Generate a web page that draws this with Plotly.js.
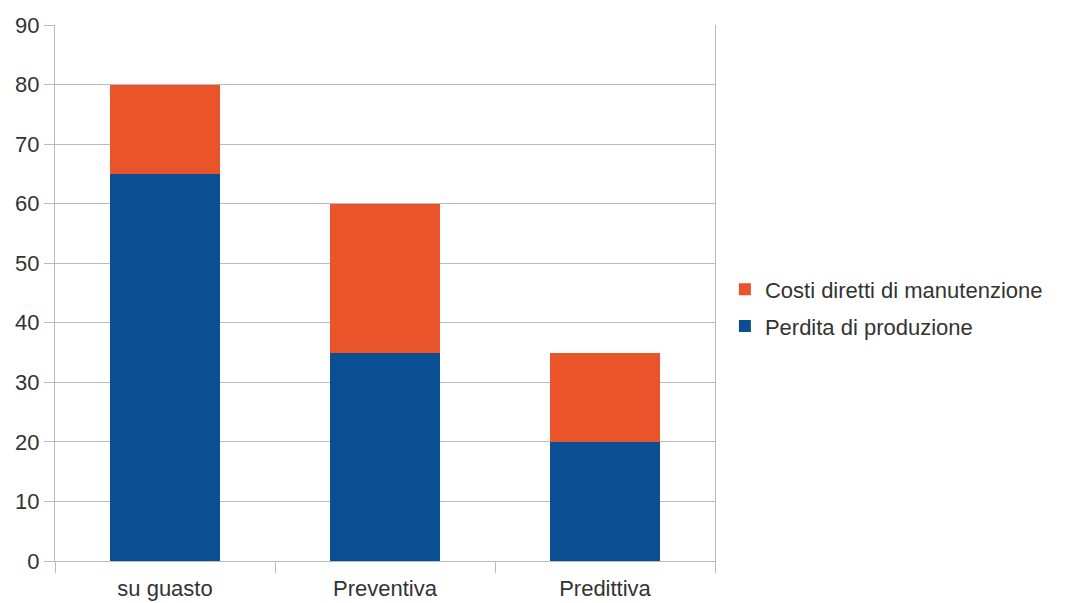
<!DOCTYPE html>
<html><head><meta charset="utf-8">
<script src="https://cdn.plot.ly/plotly-3.0.1.min.js"></script>
<style>html,body{margin:0;padding:0;background:#fff}#c{width:1067px;height:603px}</style>
</head><body><div id="c"></div>
<script>
const categories = ["su guasto", "Preventiva", "Predittiva"];
const perdita = [65, 35, 20];
const costi = [15, 25, 15];
const seriesNames = ["Perdita di produzione", "Costi diretti di manutenzione"];
const yTicks = [0, 10, 20, 30, 40, 50, 60, 70, 80, 90];

const data = [
  {type: "bar", x: categories, y: perdita, name: seriesNames[0], legendrank: 2, legendgroup: "p",
   marker: {color: "#0a4f92"}},
  {type: "bar", x: categories, y: costi, name: seriesNames[1], legendrank: 1, legendgroup: "c",
   marker: {color: "#e9542a"}}
];
const layout = {
  width: 1067, height: 603,
  margin: {l: 55, r: 352, t: 25, b: 42},
  barmode: "stack", bargap: 0.5,
  paper_bgcolor: "#fff", plot_bgcolor: "#fff",
  font: {family: "Liberation Sans, Arial, sans-serif", size: 22, color: "#333"},
  xaxis: {
    type: "category", tickson: "boundaries", ticks: "outside", ticklen: 11,
    tickcolor: "#bbb", showline: true, linecolor: "#bbb",
    showgrid: false, ticklabelstandoff: 8,
    tickfont: {size: 22, color: "#333"}
  },
  yaxis: {
    range: [0, 90], tickvals: yTicks, ticks: "outside", ticklen: 10,
    tickcolor: "#bbb", gridcolor: "#bbb", showline: true, linecolor: "#bbb",
    mirror: true, zeroline: false, tickfont: {size: 22, color: "#333"}
  },
  legend: {
    x: 1.015, xanchor: "left", y: 0.472, yanchor: "middle",
    traceorder: "grouped", tracegroupgap: 5,
    font: {size: 22, color: "#333"}, itemwidth: 30
  },
  showlegend: true
};
Plotly.newPlot("c", data, layout, {displayModeBar: false, staticPlot: true});
</script></body></html>
